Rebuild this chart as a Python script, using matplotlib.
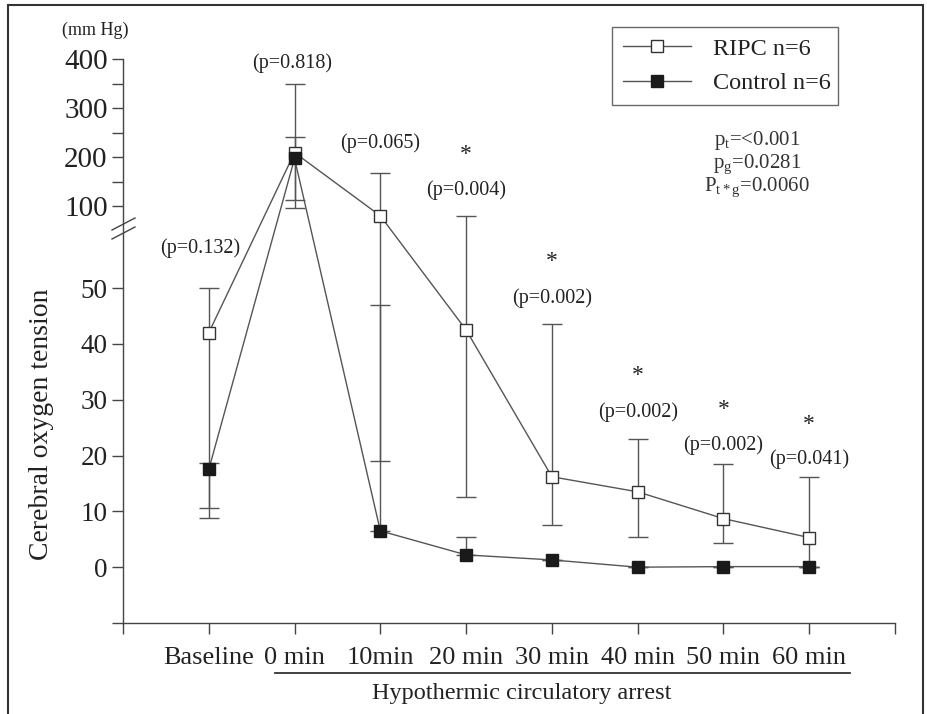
import numpy as np
import matplotlib
matplotlib.use("Agg")
import matplotlib.pyplot as plt
from matplotlib.lines import Line2D
from matplotlib.patches import Rectangle

plt.rcParams['font.family'] = ['Liberation Serif', 'DejaVu Serif']
plt.rcParams['mathtext.fontset'] = 'custom'
plt.rcParams['mathtext.rm'] = 'Liberation Serif'
plt.rcParams['mathtext.it'] = 'Liberation Serif'

# data (mm Hg)
tiempos = ["Baseline", "0 min", "10min", "20 min", "30 min", "40 min", "50 min", "60 min"]
ripc = [42, 209, 80, 42.5, 16.2, 13.5, 8.7, 5.3]
ripc_hi = [50, 350, 168, 80, 43.5, 22.9, 18.5, 16.1]
ripc_lo = [10.6, 95, 19, 12.6, 7.5, 5.4, 4.4, 0]
control = [17.5, 197, 6.5, 2.2, 1.3, 0, 0.1, 0.1]
control_hi = [18.7, 240, 47, 5.4, 1.3, 0, 0.1, 0.1]
control_lo = [8.8, 112, 6.5, 2.2, 1.3, 0, 0.1, 0.1]
p_valores = ["(p=0.132)", "(p=0.818)", "(p=0.065)", "(p=0.004)",
             "(p=0.002)", "(p=0.002)", "(p=0.002)", "(p=0.041)"]
p_y = [57.2, 392, 228, 132, 48.2, 27.7, 21.9, 19.3]
p_dx = [-0.1, -0.03, 0, 0, 0, 0, 0, 0]
asteriscos = [False, False, False, True, True, True, True, True]
ast_y = [0, 0, 0, 206, 54.7, 34.4, 28.3, 25.6]

# eje y quebrado: lineal hasta BRK, comprimido arriba
BRK = 61.3
K = 0.0878


def fwd(y):
    y = np.asarray(y, dtype=float)
    return np.where(y <= BRK, y, BRK + (y - BRK) * K)


def inv(v):
    v = np.asarray(v, dtype=float)
    return np.where(v <= BRK, v, BRK + (v - BRK) / K)


fig = plt.figure(figsize=(9.28, 7.14), dpi=100)
ax = fig.add_axes([123 / 928, 1 - 623 / 714, (895 - 123) / 928, (623 - 59) / 714])
ax.set_yscale('function', functions=(fwd, inv))

x = np.arange(1, len(tiempos) + 1)
cor_linha = '#555555'

r = np.array(ripc)
c = np.array(control)
ax.errorbar(x, r, yerr=[r - np.array(ripc_lo), np.array(ripc_hi) - r], fmt='none',
            ecolor=cor_linha, elinewidth=1, capsize=7, capthick=1, zorder=2)
ax.errorbar(x, c, yerr=[c - np.array(control_lo), np.array(control_hi) - c], fmt='none',
            ecolor=cor_linha, elinewidth=1, capsize=7, capthick=1, zorder=2)
ax.plot(x, r, '-', color=cor_linha, lw=1, marker='s', ms=9, mfc='white',
        mec='#333333', mew=1, zorder=3)
ax.plot(x, c, '-', color=cor_linha, lw=1, marker='s', ms=9, mfc='#1a1a1a',
        mec='#1a1a1a', mew=1, zorder=4)

for i in range(len(tiempos)):
    ax.text(x[i] + p_dx[i], p_y[i], p_valores[i], ha='center', va='center',
            fontsize=14.5, color='#222222')
    if asteriscos[i]:
        ax.text(x[i], ast_y[i], '*', ha='center', va='center', fontsize=17,
                color='#222222')

ax.set_xlim(0, 9)
ax.set_ylim(-10, 400)
ax.set_xticks(range(0, 10))
ax.set_xticklabels([''] + tiempos + [''], fontsize=19)
ax.set_yticks([-10, 0, 10, 20, 30, 40, 50, 100, 150, 200, 250, 300, 350, 400])
ax.set_yticklabels(['', '0', '10', '20', '30', '40', '50', '100', '', '200', '', '300', '', '400'])
for lbl in ax.get_yticklabels():
    lbl.set_fontsize(21 if lbl.get_text() in ('100', '200', '300', '400') else 19.5)
ax.tick_params(axis='both', direction='out', length=8, width=1, color='#444444',
               labelcolor='#222222')
ax.tick_params(axis='x', pad=9)
ax.tick_params(axis='y', pad=3)
for lado in ['top', 'right']:
    ax.spines[lado].set_visible(False)
for lado in ['left', 'bottom']:
    ax.spines[lado].set_color('#444444')
    ax.spines[lado].set_linewidth(1)

ax.set_ylabel('Cerebral oxygen tension', fontsize=20, color='#222222')
ax.set_xlabel('Hypothermic circulatory arrest', fontsize=17.5, color='#222222')
ax.xaxis.set_label_coords(4.65 / 9, -0.107)
ax.yaxis.set_label_coords(-0.09, 0.352)

# subrayado bajo los tiempos de parada
trans = ax.get_xaxis_transform()
ax.plot([1.77, 8.47], [-0.088, -0.088], color='#333333', lw=1.3,
        transform=trans, clip_on=False)

# marcas de corte del eje
to_fig = fig.transFigure.inverted()
for dy in (0, 9):
    p0 = to_fig.transform((112, 714 - (230 + dy)))
    p1 = to_fig.transform((135, 714 - (218 + dy)))
    fig.add_artist(Line2D([p0[0], p1[0]], [p0[1], p1[1]], color='#444444', lw=1))

fig.text(95 / 928, 1 - 30 / 714, '(mm Hg)', ha='center', va='center', fontsize=13,
         color='#222222')

fig.text(757 / 928, 1 - 141 / 714, r'p$_\mathregular{t}$=<0.001', ha='center',
         va='center', fontsize=15, color='#333333')
fig.text(757 / 928, 1 - 164 / 714, r'p$_\mathregular{g}$=0.0281', ha='center',
         va='center', fontsize=15, color='#333333')
fig.text(757 / 928, 1 - 187 / 714, r'P$_\mathregular{t*g}$=0.0060', ha='center',
         va='center', fontsize=15, color='#333333')

handles = [
    Line2D([], [], color=cor_linha, lw=1, marker='s', ms=9, mfc='white', mec='#333333'),
    Line2D([], [], color=cor_linha, lw=1, marker='s', ms=9, mfc='#1a1a1a', mec='#1a1a1a'),
]
leg = fig.legend(handles, ['RIPC n=6', 'Control n=6'], loc='upper left',
                 bbox_to_anchor=(612 / 928, 1 - 106 / 714, 226 / 928, 79 / 714),
                 mode='expand', fontsize=17.5, frameon=True, fancybox=False,
                 handlelength=2.8, borderaxespad=0, borderpad=0.45,
                 labelspacing=0.5, handletextpad=0.9)
leg.get_frame().set_edgecolor('#444444')
leg.get_frame().set_linewidth(1)
for t in leg.get_texts():
    t.set_color('#222222')

fig.add_artist(Rectangle((8 / 928, -0.01), (923 - 8) / 928, 1 - 5 / 714 + 0.01,
                         transform=fig.transFigure, fill=False,
                         edgecolor='#333333', lw=1.5))

fig.savefig('out.png', dpi=100)
